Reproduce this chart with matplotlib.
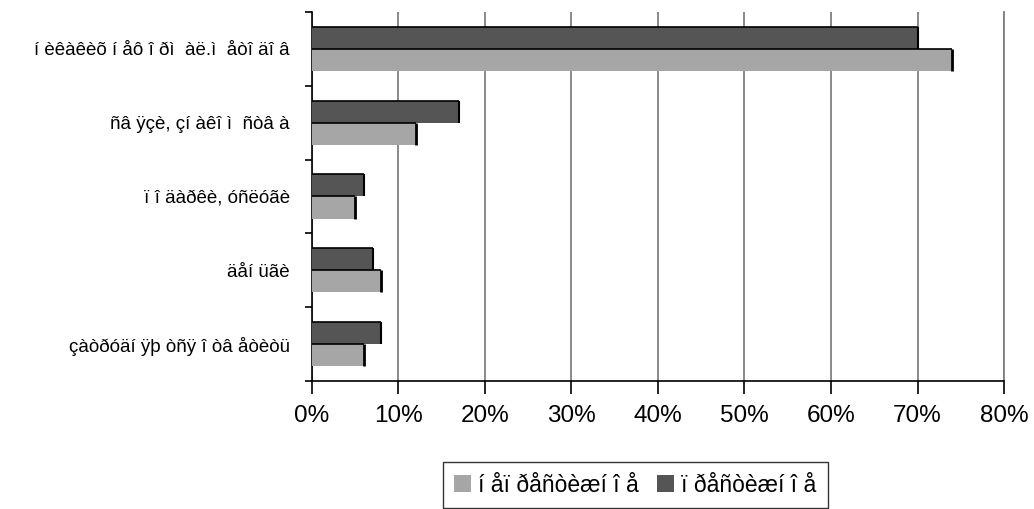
import matplotlib.pyplot as plt
import numpy as np
from matplotlib.ticker import FuncFormatter

plt.rcParams['font.family'] = ['Liberation Sans', 'DejaVu Sans']

# categories from top to bottom
categories = ['í èêàêèõ í åô î ðì  àë.ì  åòî äî â',
              'ñâ ÿçè, çí àêî ì  ñòâ à',
              'ï î äàðêè, óñëóãè',
              'äåí üãè',
              'çàòðóäí ÿþ òñÿ î òâ åòèòü']
prestige = [70, 17, 6, 7, 8]
non_prestige = [74, 12, 5, 8, 6]
series_names = ['í åï ðåñòèæí î å', 'ï ðåñòèæí î å']

DARK = '#555555'
LIGHT = '#a6a6a6'


def EdgeLines(ax, bars, lw_top, lw_right):
    # old excel look: black line only on top and right side of each bar
    for b in bars:
        x0, y0 = b.get_x(), b.get_y()
        x1, y1 = x0 + b.get_width(), y0 + b.get_height()
        ax.plot([x0, x1], [y1, y1], color='black', lw=lw_top, zorder=4,
                solid_capstyle='butt')
        ax.plot([x1, x1], [y0, y1], color='black', lw=lw_right, zorder=4,
                solid_capstyle='butt')


def main():
    fig = plt.figure(figsize=(10.34, 5.09), dpi=100)
    ax = fig.add_axes([0.3017, 0.2515, 0.6693, 0.7249])

    n = len(categories)
    y = np.arange(n)[::-1]
    h = 0.3
    light = ax.barh(y - h / 2, non_prestige, height=h, color=LIGHT,
                    linewidth=0, label=series_names[0], zorder=3)
    dark = ax.barh(y + h / 2, prestige, height=h, color=DARK,
                   linewidth=0, label=series_names[1], zorder=3)
    EdgeLines(ax, light, 1.2, 2.0)
    EdgeLines(ax, dark, 1.2, 1.5)

    ax.set_xlim(0, 80)
    ax.set_ylim(-0.5, n - 0.5)
    ax.set_xticks(np.arange(0, 81, 10))
    ax.xaxis.set_major_formatter(FuncFormatter(lambda v, p: '%d%%' % v))
    ax.set_yticks(np.arange(-0.5, n, 1.0))
    ax.set_yticklabels([])
    ax.set_yticks(y, minor=True)
    ax.set_yticklabels(categories, minor=True, fontsize=13.5)
    ax.tick_params(axis='y', which='minor', length=0, pad=16)
    ax.tick_params(axis='y', which='major', length=5, direction='out',
                   width=1.2)
    ax.tick_params(axis='x', length=9, direction='out', labelsize=17.5,
                   pad=8.5, width=1.2)

    ax.grid(axis='x', color='#808080', linewidth=1.3, zorder=0)
    ax.spines['top'].set_visible(False)
    ax.spines['right'].set_color('#808080')
    ax.spines['right'].set_linewidth(1.3)
    ax.spines['left'].set_color('black')
    ax.spines['left'].set_linewidth(1.2)
    ax.spines['bottom'].set_color('black')
    ax.spines['bottom'].set_linewidth(1.2)

    leg = fig.legend(loc='center', bbox_to_anchor=(0.6145, 0.047), ncol=2,
                     fontsize=16.5, frameon=True, fancybox=False,
                     edgecolor='black', handlelength=0.75, handleheight=0.75,
                     handletextpad=0.3, columnspacing=0.8,
                     borderpad=0.5, borderaxespad=0)
    leg.get_frame().set_linewidth(1)

    fig.savefig('out.png', dpi=100)


if __name__ == "__main__":
    main()
